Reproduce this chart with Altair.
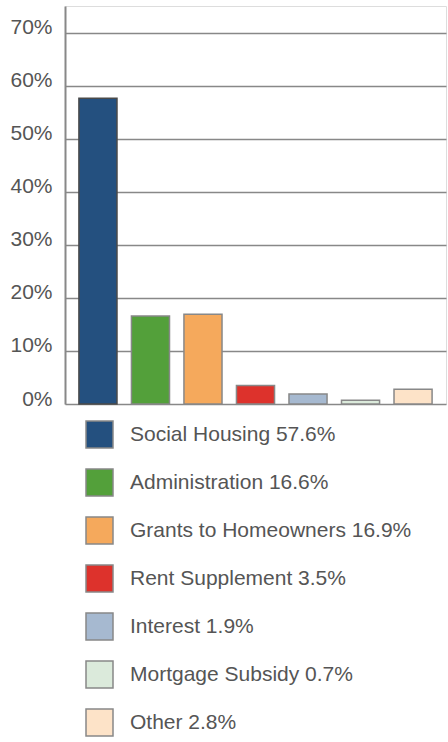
import altair as alt
import pandas as pd

categories = ["Social Housing", "Administration", "Grants to Homeowners", "Rent Supplement",
              "Interest", "Mortgage Subsidy", "Other"]
values = [57.6, 16.6, 16.9, 3.5, 1.9, 0.7, 2.8]
colors = ["#24507f", "#53a03a", "#f5a95c", "#dd322c", "#a6b9d0", "#dbeadb", "#fde3c8"]
strokes = ["#4a4a4a", "#888888", "#888888", "#888888", "#888888", "#888888", "#888888"]
tick_values = [0, 10, 20, 30, 40, 50, 60, 70]

labels = [f"{c} {v}%" for c, v in zip(categories, values)]
df = pd.DataFrame({"category": categories, "value": values, "label": labels})

chart = alt.Chart(df).mark_bar(strokeWidth=1.5, opacity=1).encode(
    x=alt.X("category:N", sort=categories, axis=None,
            scale=alt.Scale(paddingInner=0.275, paddingOuter=0.265)),
    y=alt.Y("value:Q", scale=alt.Scale(domain=[0, 75], nice=False),
            axis=alt.Axis(values=tick_values,
                          labelExpr="datum.value + '%'",
                          ticks=False, labelPadding=13, labelFontSize=21,
                          labelBaseline="alphabetic", labelOffset=1,
                          labelColor="#555555", labelFont="Liberation Sans",
                          domainColor="#888888", domainWidth=2,
                          gridColor="#888888", gridWidth=1.4, title=None)),
    color=alt.Color("label:N", sort=labels,
                    scale=alt.Scale(domain=labels, range=colors),
                    legend=alt.Legend(orient="none", legendX=20, legendY=414,
                                      title=None, symbolType="square", symbolSize=729,
                                      symbolStrokeColor="#888888", symbolStrokeWidth=1.5,
                                      symbolOpacity=1, padding=0, labelLimit=400,
                                      labelFontSize=21, labelColor="#555555",
                                      labelFont="Liberation Sans", labelOffset=16,
                                      rowPadding=15, direction="vertical")),
    stroke=alt.Stroke("category:N", sort=categories,
                      scale=alt.Scale(domain=categories, range=strokes), legend=None),
).properties(
    width=381, height=398,
    padding={"left": 65, "top": 6, "right": 2, "bottom": 338},
    autosize=alt.AutoSizeParams(type="none"),
).configure_view(stroke=None).configure(background="white")

chart.save("out.html", embed_options={"renderer": "svg", "actions": False})
